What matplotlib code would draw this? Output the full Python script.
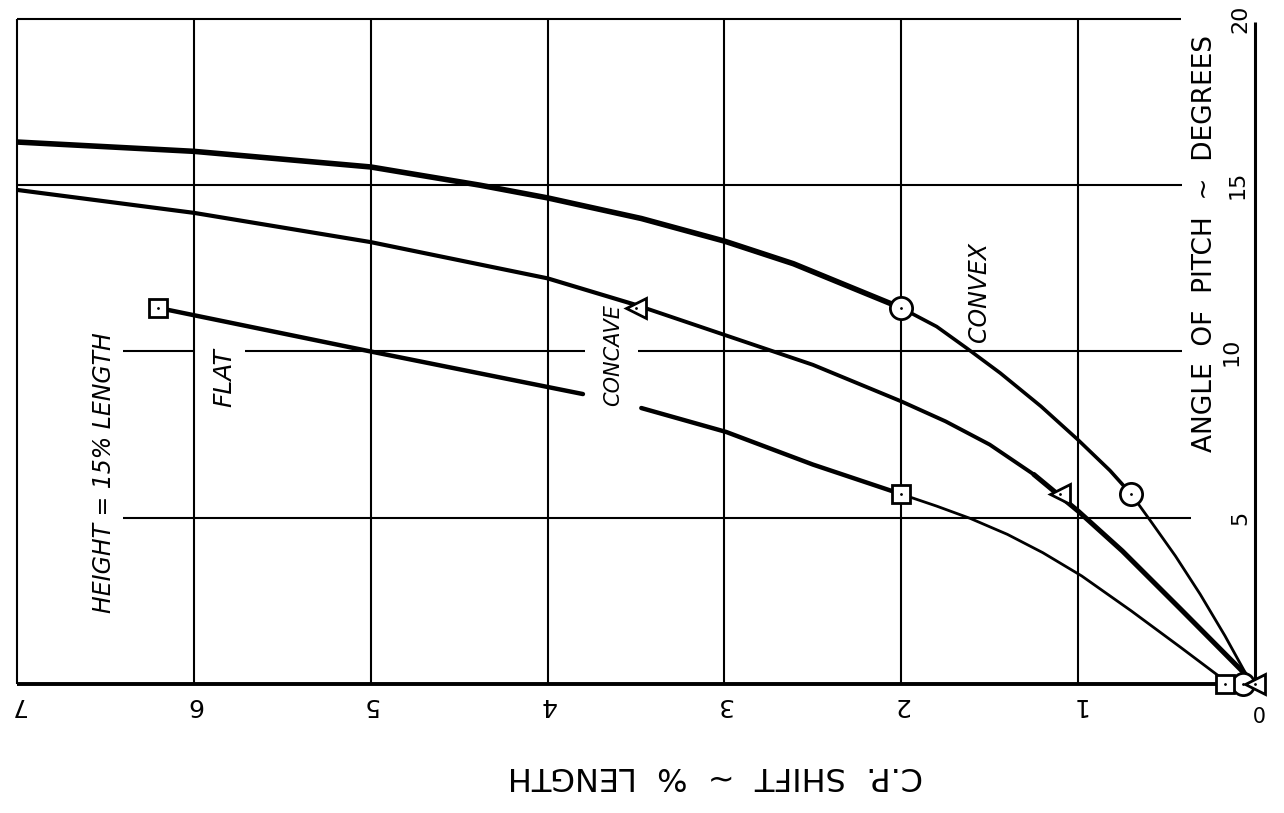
import numpy as np
import matplotlib.pyplot as plt

# C.P. shift (% length) against angle of pitch (deg), model height = 15% length
convex_shift = [7.0, 6.0, 5.0, 4.38, 4.0, 3.47, 3.0, 2.61, 2.0, 1.8, 1.63, 1.44, 1.21, 1.0, 0.82, 0.70,
                0.59, 0.45, 0.31, 0.17, 0.03]
convex_angle = [16.3, 16.02, 15.55, 15.0, 14.62, 14.0, 13.32, 12.64, 11.31, 10.75, 10.1, 9.35, 8.35, 7.34, 6.42, 5.71,
                4.9, 3.85, 2.7, 1.45, 0.1]

concave_shift = [7.0, 6.0, 5.0, 4.0, 3.5, 3.0, 2.5, 2.0, 1.75, 1.5, 1.25, 1.0, 0.75, 0.42, 0.0]
concave_angle = [14.86, 14.17, 13.29, 12.2, 11.4, 10.5, 9.6, 8.5, 7.9, 7.2, 6.3, 5.2, 4.0, 2.25, 0.0]

flat_upper_shift = [6.2, 5.0, 3.8]
flat_upper_angle = [11.31, 10.0, 8.72]
flat_lower_shift = [3.47, 2.99, 2.5, 2.0, 1.8, 1.61, 1.4, 1.2, 0.98, 0.7, 0.42, 0.17]
flat_lower_angle = [8.3, 7.58, 6.6, 5.71, 5.35, 4.98, 4.5, 3.95, 3.25, 2.2, 1.1, 0.1]

# measured test points
convex_pts_shift = [2.0, 0.70, 0.07]
convex_pts_angle = [11.31, 5.71, 0.0]
concave_pts_shift = [3.5, 1.1, 0.0]
concave_pts_angle = [11.31, 5.71, 0.0]
flat_pts_shift = [6.2, 2.0, 0.17]
flat_pts_angle = [11.31, 5.71, 0.0]

shift_ticks = [1, 2, 3, 4, 5, 6, 7]
angle_ticks = [5, 10, 15, 20]


def seg(xs, ys, i0, i1, lw):
    ax.plot(xs[i0:i1 + 1], ys[i0:i1 + 1], color='black', lw=lw,
            solid_capstyle='round', solid_joinstyle='round', zorder=3)


def pts(xs, ys, marker, ms):
    ax.plot(xs, ys, ls='none', marker=marker, ms=ms, mfc='white',
            mec='black', mew=2.0, zorder=5, clip_on=False)
    ax.plot(xs, ys, ls='none', marker='.', ms=2, color='black', zorder=6, clip_on=False)


fig = plt.figure(figsize=(12.84, 8.13), dpi=100)
ax = fig.add_axes([17 / 1284, 1 - 684 / 813, (1255 - 17) / 1284, (684 - 19) / 813])
ax.set_xlim(7, 0)
ax.set_ylim(0, 20)
ax.axis('off')

# --- grid, drawn by hand so some rules can stop short of the lettering ---
k = dict(color='black', lw=1.5, clip_on=False, zorder=1)
ax.vlines(shift_ticks, 0, 20, **k)
ax.vlines(0, 0, 19.9, color='black', lw=2.2, clip_on=False, zorder=1)
ax.hlines(20, 7, 0.42, **k)
ax.hlines(15, 7, 0.41, **k)
ax.hlines([10, 10, 10], [6.40, 5.71, 3.49], [6.0, 3.79, 0.41], **k)
ax.hlines(5, 6.40, 0.36, **k)
ax.hlines(0, 7, 0, color='black', lw=2.8, clip_on=False, zorder=2)

# --- curves ---
seg(convex_shift, convex_angle, 0, 8, 4.0)
seg(convex_shift, convex_angle, 8, 15, 2.6)
seg(convex_shift, convex_angle, 15, 20, 2.0)

seg(concave_shift, concave_angle, 0, 4, 3.0)
seg(concave_shift, concave_angle, 4, 10, 2.8)
seg(concave_shift, concave_angle, 10, 14, 3.6)

seg(flat_upper_shift, flat_upper_angle, 0, 2, 3.2)
seg(flat_lower_shift, flat_lower_angle, 0, 3, 3.2)
seg(flat_lower_shift, flat_lower_angle, 3, 11, 2.0)

pts(convex_pts_shift, convex_pts_angle, 'o', 16)
pts(concave_pts_shift, concave_pts_angle, '<', 15)
pts(flat_pts_shift, flat_pts_angle, 's', 13)

# --- lettering ---
font = dict(family='DejaVu Sans', color='black', ha='center', va='center')
for v in shift_ticks:
    ax.text(v, -0.63, str(v), rotation=180, fontsize=18, **font)
ax.text(-0.01, -0.8, '0', rotation=180, fontsize=15, **font)

tick_x = {5: 0.085, 10: 0.13, 15: 0.1, 20: 0.085}
for v in angle_ticks:
    ax.text(tick_x[v], v, str(v), rotation=90, fontsize=16, **font)

ax.text(3.05, -2.74, 'C.P.  SHIFT  ~  %  LENGTH', rotation=180, fontsize=23, **font)
ax.text(0.28, 13.26, 'ANGLE  OF  PITCH  ~  DEGREES', rotation=90, fontsize=19, **font)
ax.text(6.51, 6.35, 'HEIGHT = 15% LENGTH', rotation=90, fontsize=17, style='italic', **font)
ax.text(5.83, 9.2, 'FLAT', rotation=90, fontsize=18, style='italic', **font)
ax.text(3.63, 9.9, 'CONCAVE', rotation=90, fontsize=15, style='italic', **font)
ax.text(1.56, 11.8, 'CONVEX', rotation=90, fontsize=17, style='italic', **font)

fig.savefig('out.png', dpi=100, facecolor='white')
